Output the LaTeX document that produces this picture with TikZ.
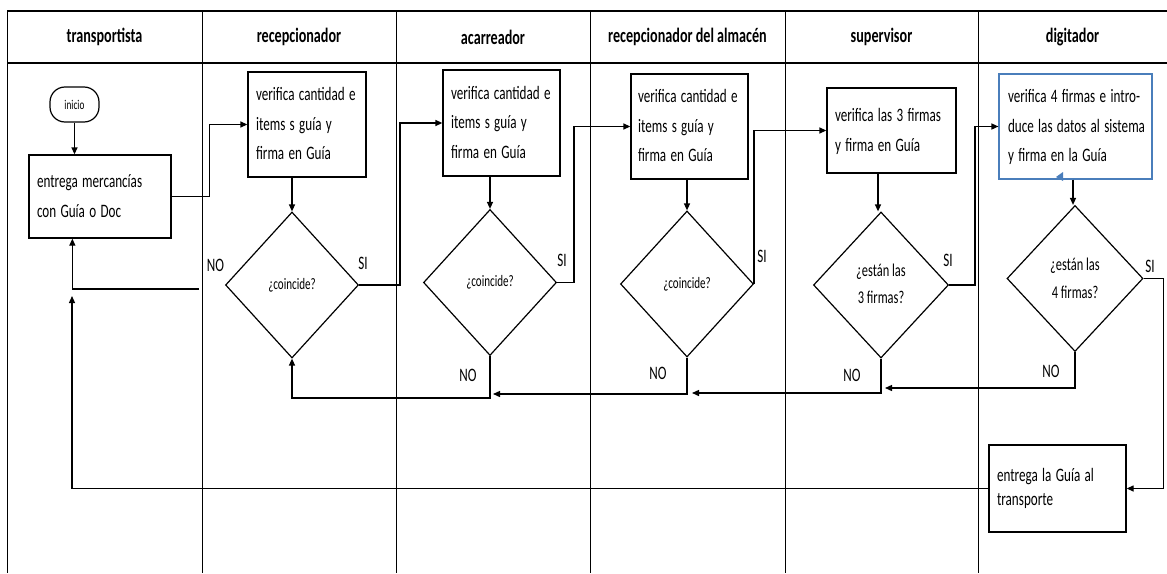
\documentclass[tikz,border=0pt]{standalone}
\usepackage{fontspec}
\usepackage{graphicx}
\setmainfont{Carlito}
\usetikzlibrary{shapes.geometric,arrows.meta,calc}
\definecolor{boxblue}{HTML}{4A7EBB}
\newcommand{\nsq}[1]{\scalebox{0.69}[1]{#1}}
\newcommand{\nlines}[1]{\nsq{\begin{tabular}{@{}l@{}}#1\end{tabular}}}
\newcommand{\nclines}[1]{\nsq{\begin{tabular}{@{}c@{}}#1\end{tabular}}}
\begin{document}
\begin{tikzpicture}[x=1pt,y=-1pt,
  pbox/.style={draw, line width=1.3pt, align=left, inner xsep=8pt, inner ysep=0pt,
    font=\fontsize{19}{29.5}\selectfont},
  dia/.style={draw, diamond, line width=1.2pt, minimum width=133pt, minimum height=146pt,
    inner sep=0pt, align=center},
  lbl/.style={font=\fontsize{19}{19}\selectfont, inner sep=0pt},
  hdr/.style={font=\bfseries\fontsize{20.5}{20.5}\selectfont, inner sep=0pt},
  arr/.style={line width=1.3pt, -{Triangle[length=7pt,width=6pt]}},
  lane/.style={line width=1pt},
  hline/.style={line width=1.8pt}]
\useasboundingbox (0,0) rectangle (1167,573);
\fill[white] (0,0) rectangle (1167,573);

% swimlane table
\foreach \x in {7,202,396,590,785,978} \draw[lane] (\x,11) -- (\x,573);
\draw[hline] (7,11) -- (1167,11);
\draw[hline] (7,63) -- (1167,63);

% headers
\node[hdr] (h1) at (104.5,37) {\nsq{transportista}};
\node[hdr] (h2) at (299,37) {\nsq{recepcionador}};
\node[hdr] (h3) at (493,37) {\nsq{acarreador}};
\node[hdr] (h4) at (687.5,37) {\nsq{recepcionador del almacén}};
\node[hdr] (h5) at (881.5,37) {\nsq{supervisor}};
\node[hdr] (h6) at (1072.5,37) {\nsq{digitador}};

% nodes
\node[draw, line width=1.2pt, rounded corners=15pt, minimum width=49pt, minimum height=35pt,
  inner sep=0pt, font=\fontsize{13.4}{14}\selectfont] (ini) at (74.5,104.5) {\nsq{inicio}};
\node[pbox, text width=126pt, minimum height=83pt, font=\fontsize{19}{30}\selectfont] (b0) at (100,196.5)
  {\nlines{entrega mercancías\\con Guía o Doc}};
\node[pbox, text width=102pt, minimum height=105pt] (b1) at (307,124.5)
  {\nlines{verifica cantidad e\\items s guía y\\firma en Guía}};
\node[pbox, text width=101pt, minimum height=106pt] (b2) at (501.5,123)
  {\nlines{verifica cantidad e\\items s guía y\\firma en Guía}};
\node[pbox, text width=103pt, minimum height=105pt, inner xsep=7pt] (b3) at (689.5,126.5)
  {\nlines{verifica cantidad e\\items s guía y\\firma en Guía}};
\node[pbox, text width=113pt, minimum height=85pt] (b4) at (891.5,130.5)
  {\nlines{verifica las 3 firmas\\y firma en Guía}};
\node[pbox, draw=boxblue, line width=1.1pt, text width=135pt, minimum height=105pt, inner xsep=9pt] (b5) at (1075.5,126.5)
  {\nlines{verifica 4 firmas e intro-\\duce las datos al sistema\\y firma en la Guía}};
\node[pbox, text width=121pt, minimum height=87pt, font=\fontsize{19}{24}\selectfont] (b6) at (1057.5,488.5)
  {\nlines{entrega la Guía al\\transporte}};

\node[dia, font=\fontsize{16}{16}\selectfont] (d1) at (292,285) {\nsq{¿coincide?}};
\node[dia, font=\fontsize{16}{16}\selectfont] (d2) at (490,282.5) {\nsq{¿coincide?}};
\node[dia, font=\fontsize{16}{16}\selectfont] (d3) at (687,284) {\nsq{¿coincide?}};
\node[dia, minimum width=135pt, font=\fontsize{18}{27}\selectfont] (d4) at (881,285) {\nclines{¿están las\\3 firmas?}};
\node[dia, minimum width=136pt, font=\fontsize{18}{28}\selectfont] (d5) at (1075,278.5) {\nclines{¿están las\\4 firmas?}};

% small blue mark
\fill[boxblue] (1056,177) -- (1063,172) -- (1063,181) -- cycle;

% free ends
\coordinate (n1) at (199,289);
\coordinate (t0) at (72,296);
\coordinate (t3) at (493,394);
\coordinate (t4) at (692,393);
\coordinate (t5) at (885,388);

% connectors
\draw[arr] (ini.south) -- (ini.south |- b0.north);
\draw[arr] (b0.east) -- ++(38,0) |- (b1.west);
\draw[arr] (d1.north |- b1.south) -- (d1.north);
\draw[arr] (d1.east) -- ++(41,0) |- (b2.west);
\draw[arr] (d2.north |- b2.south) -- (d2.north);
\draw[arr] (d2.east) -- ++(17,0) |- (b3.west);
\draw[arr] (d3.north |- b3.south) -- (d3.north);
\draw[arr] (d3.east) |- (b4.west);
\draw[arr] ([xshift=-3pt]d4.north |- b4.south) -- ([xshift=-3pt]d4.north);
\draw[arr] (d4.east) -- ++(26,0) |- (b5.west);
\draw[arr] ([xshift=-2pt]d5.north |- b5.south) -- ([xshift=-2pt]d5.north);
\draw[arr] (d5.east) -- ++(20,0) |- (b6.east);
\draw[arr] (b6.west) -| (t0);
\draw[arr] (n1) -| ($(b0.south west)+(44,0)$);
\draw[arr] (d2.south) -- ++(0,42) -| (d1.south);
\draw[arr] (d3.south) |- (t3);
\draw[arr] (d4.south) |- (t4);
\draw[arr] (d5.south) |- (t5);

% labels
\node[lbl] (no1) at (215.5,265) {\nsq{NO}};
\node[lbl] (si1) at (363,263) {\nsq{SI}};
\node[lbl] (si2) at (562,260) {\nsq{SI}};
\node[lbl] (no2) at (468,375) {\nsq{NO}};
\node[lbl] (si3) at (762,256) {\nsq{SI}};
\node[lbl] (no3) at (658,373) {\nsq{NO}};
\node[lbl] (si4) at (948,260) {\nsq{SI}};
\node[lbl] (no4) at (852,375) {\nsq{NO}};
\node[lbl] (si5) at (1150,266) {\nsq{SI}};
\node[lbl] (no5) at (1051,371) {\nsq{NO}};
\end{tikzpicture}
\end{document}
